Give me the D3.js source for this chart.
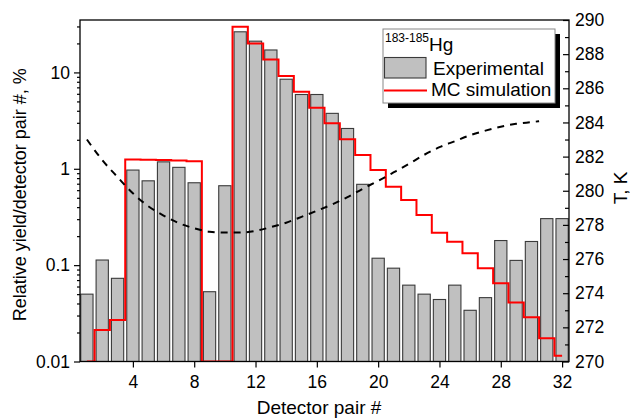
<!DOCTYPE html>
<html>
<head>
<meta charset="utf-8">
<script src="https://cdn.jsdelivr.net/npm/d3@7"></script>
<style>
  body { margin: 0; background: #fff; }
  svg { font-family: "Liberation Sans", Arial, sans-serif; }
</style>
</head>
<body>
<div id="chart"></div>
<script>
// detector pair numbers
const pairs = d3.range(1, 33);

// experimental relative yield, %
const expYield = [0.050, 0.113, 0.073, 0.97, 0.75, 1.18, 1.035, 0.716, 0.053, 0.667,
                  26.4, 21.1, 17.1, 8.5, 5.9, 5.9, 3.76, 2.62, 0.69, 0.118,
                  0.093, 0.062, 0.050, 0.044, 0.062, 0.034, 0.046, 0.18, 0.112, 0.176,
                  0.304, 0.304];

// MC simulation, % (values under 0.01 fall below the axis)
const mcYield = [0.005, 0.0212, 0.0269, 1.25, 1.24, 1.23, 1.22, 1.2, 0.005, 0.005,
                 29.7, 20.0, 13.6, 9.16, 6.29, 4.31, 2.96, 2.02, 1.39, 0.97,
                 0.65, 0.473, 0.331, 0.217, 0.175, 0.133, 0.093, 0.065, 0.041, 0.0288,
                 0.0174, 0.0115];

// temperature profile, K
const tempX = [1, 2, 3, 4, 5, 6, 7, 8, 9, 10, 11, 12, 13, 14, 15, 16, 17, 18, 19, 20,
               21, 22, 23, 24, 25, 26, 27, 28, 29, 30, 30.5];
const tempK = [283.0, 281.8, 280.8, 279.85, 279.1, 278.55, 278.1, 277.8, 277.6, 277.55, 277.55,
               277.65, 277.87, 278.13, 278.47, 278.83, 279.2, 279.63, 280.12, 280.58,
               281.07, 281.57, 282.1, 282.55, 282.9, 283.25, 283.52, 283.75, 283.92, 284.02, 284.07];

const xTicks = [4, 8, 12, 16, 20, 24, 28, 32];
const yTicks = [0.01, 0.1, 1, 10];
const tTicks = d3.range(270, 291, 2);

const W = 630, H = 420;
const margin = { top: 20, right: 61, bottom: 58.5, left: 80 };
const width = W - margin.left - margin.right;
const height = H - margin.top - margin.bottom;

const svg = d3.select('#chart').append('svg')
    .attr('width', W)
    .attr('height', H);

const g = svg.append('g')
    .attr('transform', `translate(${margin.left},${margin.top})`);

const x = d3.scaleLinear().domain([0.55, 32.45]).range([0, width]);
const y = d3.scaleLog().domain([0.01, 35]).range([height, 0]).clamp(true);
const yT = d3.scaleLinear().domain([270, 290]).range([height, 0]);

g.append('clipPath').attr('id', 'clip')
    .append('rect').attr('width', width).attr('height', height);

const plot = g.append('g').attr('clip-path', 'url(#clip)');

// bars
const barW = 0.8;
plot.selectAll('rect.bar')
    .data(pairs)
    .enter()
    .append('rect')
    .attr('class', 'bar')
    .attr('x', (d, i) => x(d - barW / 2))
    .attr('width', x(barW) - x(0))
    .attr('y', (d, i) => y(expYield[i]))
    .attr('height', (d, i) => height - y(expYield[i]))
    .attr('fill', '#c0c0c0')
    .attr('stroke', '#3a3a3a')
    .attr('stroke-width', 1.1);

// MC simulation step line
const mcLine = d3.line()
    .x((d, i) => x(pairs[i]))
    .y(d => y(d))
    .curve(d3.curveStep);

plot.append('path')
    .datum(mcYield)
    .attr('d', mcLine)
    .attr('fill', 'none')
    .attr('stroke', '#ff0000')
    .attr('stroke-width', 2);

// temperature dashed line
const tLine = d3.line()
    .x((d, i) => x(tempX[i]))
    .y(d => yT(d))
    .curve(d3.curveMonotoneX);

plot.append('path')
    .datum(tempK)
    .attr('d', tLine)
    .attr('fill', 'none')
    .attr('stroke', '#000')
    .attr('stroke-width', 2)
    .attr('stroke-dasharray', '7,6');

// frame
g.append('rect')
    .attr('width', width)
    .attr('height', height)
    .attr('fill', 'none')
    .attr('stroke', '#000')
    .attr('stroke-width', 1.3);

// bottom axis
const xAxis = g.append('g')
    .attr('transform', `translate(0,${height})`)
    .call(d3.axisBottom(x).tickValues(xTicks).tickSize(6).tickPadding(8).tickFormat(d3.format('d')));

// left axis, log with minor ticks
const minorY = [];
[0.01, 0.1, 1, 10].forEach(dec => {
    for (let k = 2; k <= 9; k++) {
        const v = dec * k;
        if (v <= 35) minorY.push(v);
    }
});
g.append('g')
    .call(d3.axisLeft(y).tickValues(minorY).tickSize(3).tickFormat(''));
const yAxis = g.append('g')
    .call(d3.axisLeft(y).tickValues(yTicks).tickSize(6).tickPadding(4)
        .tickFormat(d => d < 1 ? d3.format('.2~f')(d) : d3.format('d')(d)));

// right axis, ticks pointing inward
g.append('g')
    .attr('transform', `translate(${width},0)`)
    .call(d3.axisLeft(yT).tickValues(d3.range(271, 290, 2)).tickSize(4).tickFormat(''));
const tAxis = g.append('g')
    .attr('transform', `translate(${width},0)`)
    .call(d3.axisRight(yT).tickValues(tTicks).tickSize(0).tickPadding(6));
tAxis.selectAll('.tick').append('line')
    .attr('x2', -6)
    .attr('stroke', '#000');

[xAxis, yAxis, tAxis].forEach(a => {
    a.selectAll('text').attr('font-size', 17.5).attr('fill', '#000')
        .attr('font-family', '"Liberation Sans", Arial, sans-serif');
});
g.selectAll('.domain').remove();
g.selectAll('.tick line').attr('stroke-width', 1.2);

// axis titles
svg.append('text')
    .attr('transform', `translate(26,${margin.top + height / 2 + 4}) rotate(-90)`)
    .attr('text-anchor', 'middle')
    .attr('font-size', 18)
    .text('Relative yield/detector pair #, %');

svg.append('text')
    .attr('x', 319)
    .attr('y', 414)
    .attr('text-anchor', 'middle')
    .attr('font-size', 19)
    .text('Detector pair #');

svg.append('text')
    .attr('transform', `translate(627,188) rotate(-90)`)
    .attr('text-anchor', 'middle')
    .attr('font-size', 19)
    .text('T, K');

// legend
const lg = svg.append('g').attr('transform', 'translate(383,29)');
lg.append('rect')
    .attr('x', 5).attr('y', 5)
    .attr('width', 172).attr('height', 74)
    .attr('fill', '#000');
lg.append('rect')
    .attr('width', 172).attr('height', 74)
    .attr('fill', '#fff')
    .attr('stroke', '#888')
    .attr('stroke-width', 1);

const title = lg.append('text')
    .attr('x', 2)
    .attr('y', 22)
    .attr('font-size', 19);
title.append('tspan')
    .attr('font-size', 12)
    .attr('dy', -9)
    .text('183-185');
title.append('tspan')
    .attr('dy', 9)
    .text('Hg');

lg.append('rect')
    .attr('x', 1.5).attr('y', 28.5)
    .attr('width', 41.5).attr('height', 20.5)
    .attr('fill', '#c0c0c0')
    .attr('stroke', '#3a3a3a')
    .attr('stroke-width', 1.1);
lg.append('text')
    .attr('x', 50).attr('y', 46)
    .attr('font-size', 19)
    .text('Experimental');

lg.append('line')
    .attr('x1', 1).attr('x2', 44)
    .attr('y1', 61.5).attr('y2', 61.5)
    .attr('stroke', '#ff0000')
    .attr('stroke-width', 2);
lg.append('text')
    .attr('x', 48).attr('y', 67)
    .attr('font-size', 19)
    .text('MC simulation');
</script>
</body>
</html>
